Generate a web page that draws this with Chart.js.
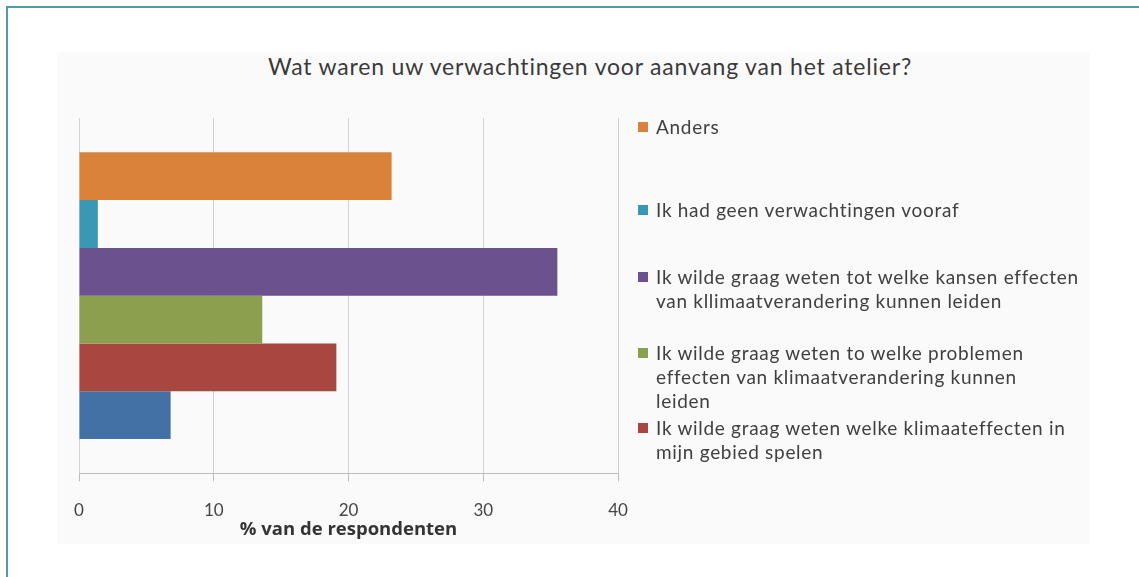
<!DOCTYPE html>
<html>
<head>
<meta charset="utf-8">
<script src="https://cdn.jsdelivr.net/npm/chart.js@4"></script>
<style>
  body { margin: 0; background: #fff; font-family: Lato, "Open Sans", sans-serif; }
  #wrap { position: relative; width: 1139px; height: 577px; overflow: hidden; }
  #frame { position: absolute; left: 6px; top: 6px; right: -10px; bottom: -10px;
           border-top: 2px solid #4d9aa8; border-left: 2px solid #4d9aa8; }
  #bg { position: absolute; left: 57px; top: 52px; width: 1033px; height: 492px; background: #fafafa; }
  #title { position: absolute; left: 0; width: 1180px; top: 52px; text-align: center;
           font-size: 23px; letter-spacing: 0.8px; color: #3a3a3a; }
  #myChart { position: absolute; left: 0; top: 0; }
  .lg { position: absolute; left: 638px; font-size: 19px; letter-spacing: 0.7px; line-height: 24px; color: #404040; }
  .lg span.box { position: absolute; left: 0; top: 7px; width: 10px; height: 10px; }
  .lg div { padding-left: 18px; white-space: nowrap; }
</style>
</head>
<body>
<div id="wrap">
  <div id="frame"></div>
  <div id="bg"></div>
  <div id="title">Wat waren uw verwachtingen voor aanvang van het atelier?</div>
  <canvas id="myChart" width="1139" height="577"></canvas>
  <div id="legend"></div>
</div>
<script>
// data (% of respondents)
const seriesLines = [
  ['Anders'],
  ['Ik had geen verwachtingen vooraf'],
  ['Ik wilde graag weten tot welke kansen effecten', 'van kllimaatverandering kunnen leiden'],
  ['Ik wilde graag weten to welke problemen', 'effecten van klimaatverandering kunnen', 'leiden'],
  ['Ik wilde graag weten welke klimaateffecten in', 'mijn gebied spelen'],
  ['']
];
const seriesValues = [23.2, 1.4, 35.5, 13.6, 19.1, 6.8];
const seriesColors = ['#d9833a', '#3b98b5', '#6b528e', '#8b9f4e', '#a7473f', '#4471a5'];
const xTicks = [0, 10, 20, 30, 40];
const axisTitle = '% van de respondenten';
const legendCount = 5; // last series is cut off in the original legend

const ctx = document.getElementById('myChart').getContext('2d');
const myChart = new Chart(ctx, {
  type: 'bar',
  data: {
    labels: [''],
    datasets: seriesValues.map((v, i) => ({
      label: seriesLines[i].join(' '),
      data: [v],
      backgroundColor: seriesColors[i],
      borderWidth: 0,
      categoryPercentage: 0.807,
      barPercentage: 1
    }))
  },
  options: {
    indexAxis: 'y',
    responsive: false,
    animation: false,
    layout: { padding: { left: 79, right: 521, top: 118, bottom: 36 } },
    plugins: {
      legend: { display: false },
      title: { display: false },
      tooltip: { enabled: false }
    },
    scales: {
      y: { display: false },
      x: {
        min: xTicks[0],
        max: xTicks[xTicks.length - 1],
        afterBuildTicks: (s) => { s.ticks = xTicks.map(v => ({ value: v })); },
        grid: { color: '#d2d2d2', tickLength: 8, tickColor: '#bdbdbd' },
        border: { color: '#bdbdbd' },
        ticks: { padding: 19, color: '#444', font: { family: 'Lato', size: 17 } },
        title: {
          display: true,
          text: axisTitle,
          color: '#333',
          padding: { top: -21, bottom: 0 },
          font: { family: 'Open Sans', size: 18.5, weight: 'bold' }
        }
      }
    }
  }
});

// legend built from the series labels and colours
const legendTops = [115, 198, 265, 341, 416];
const lg = document.getElementById('legend');
for (let i = 0; i < legendCount; i++) {
  const item = document.createElement('div');
  item.className = 'lg';
  item.style.top = legendTops[i] + 'px';
  item.innerHTML = '<span class="box" style="background:' + seriesColors[i] + '"></span>' +
    seriesLines[i].map(t => '<div>' + t + '</div>').join('');
  lg.appendChild(item);
}
</script>
</body>
</html>
